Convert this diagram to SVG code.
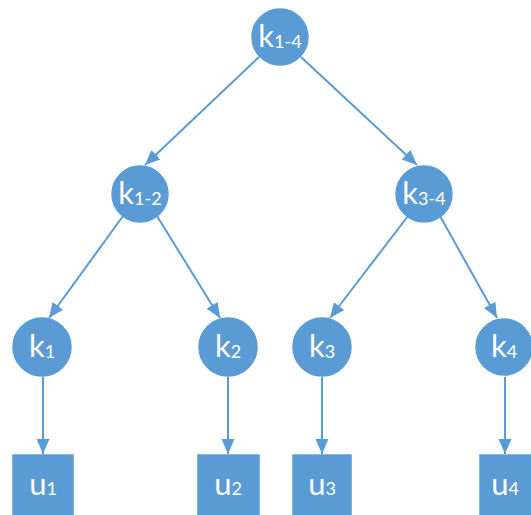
<svg xmlns="http://www.w3.org/2000/svg" width="531" height="515" viewBox="0 0 531 515">
<style>
.n{fill:#5B9BD5;stroke:#5B9BD5;stroke-width:1.5}
.t{fill:#fff;font-family:Lato,"Open Sans","Liberation Sans",sans-serif;text-anchor:middle}
.big{font-size:31px}
.sub{font-size:18px}
.e{stroke:#5B9BD5;stroke-width:2;fill:none;marker-end:url(#a)}
</style>
<defs>
<marker id="a" markerUnits="userSpaceOnUse" markerWidth="16" markerHeight="16" viewBox="0 0 16 16" refX="15" refY="8" orient="auto">
<path d="M0,1.5 L15,8 L0,14.5 Z" fill="#5B9BD5"/>
</marker>
</defs>
<g id="edges">
<line class="e" x1="259" y1="57" x2="145" y2="165"/>
<line class="e" x1="301" y1="57" x2="417" y2="165"/>
<line class="e" x1="123" y1="216" x2="49" y2="318"/>
<line class="e" x1="157" y1="216" x2="220" y2="318"/>
<line class="e" x1="408" y1="216" x2="330" y2="318"/>
<line class="e" x1="440" y1="216" x2="497" y2="318"/>
<line class="e" x1="43" y1="377" x2="43" y2="454"/>
<line class="e" x1="228" y1="377" x2="228" y2="454"/>
<line class="e" x1="322" y1="377" x2="322" y2="454"/>
<line class="e" x1="505" y1="377" x2="505" y2="454"/>
</g>
<g id="k14"><circle class="n" cx="280" cy="37" r="28"/><text class="t big" x="280" y="47">k<tspan class="sub" dy="1">1-4</tspan></text></g>
<g id="k12"><circle class="n" cx="140" cy="194" r="28"/><text class="t big" x="140" y="204">k<tspan class="sub" dy="1">1-2</tspan></text></g>
<g id="k34"><circle class="n" cx="424" cy="194" r="28"/><text class="t big" x="424" y="204">k<tspan class="sub" dy="1">3-4</tspan></text></g>
<g id="k1"><circle class="n" cx="42" cy="347" r="29"/><text class="t big" x="42" y="357">k<tspan class="sub" dy="1">1</tspan></text></g>
<g id="k2"><circle class="n" cx="228" cy="347" r="29"/><text class="t big" x="228" y="357">k<tspan class="sub" dy="1">2</tspan></text></g>
<g id="k3"><circle class="n" cx="322" cy="347" r="29"/><text class="t big" x="322" y="357">k<tspan class="sub" dy="1">3</tspan></text></g>
<g id="k4"><circle class="n" cx="504" cy="347" r="28"/><text class="t big" x="504" y="357">k<tspan class="sub" dy="1">4</tspan></text></g>
<g id="u1"><rect class="n" x="13" y="455" width="60" height="61"/><text class="t big" x="43" y="495">u<tspan class="sub" dy="0">1</tspan></text></g>
<g id="u2"><rect class="n" x="198" y="455" width="61" height="61"/><text class="t big" x="228" y="495">u<tspan class="sub" dy="0">2</tspan></text></g>
<g id="u3"><rect class="n" x="293" y="455" width="58" height="61"/><text class="t big" x="322" y="495">u<tspan class="sub" dy="0">3</tspan></text></g>
<g id="u4"><rect class="n" x="480" y="455" width="52" height="61"/><text class="t big" x="505" y="495">u<tspan class="sub" dy="0">4</tspan></text></g>
</svg>
